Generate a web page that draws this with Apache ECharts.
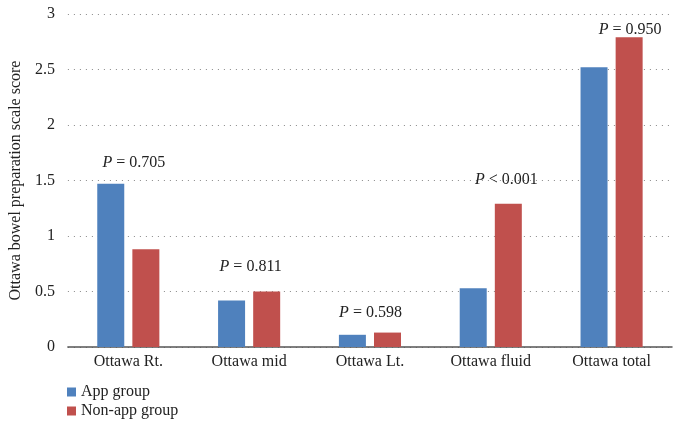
<!DOCTYPE html>
<html><head><meta charset="utf-8">
<script src="https://cdn.jsdelivr.net/npm/echarts@6/dist/echarts.min.js"></script>
<style>html,body{margin:0;padding:0;background:#fff}#c{width:683px;height:426px}</style>
</head><body><div id="c"></div>
<script>
const categories = ['Ottawa Rt.', 'Ottawa mid', 'Ottawa Lt.', 'Ottawa fluid', 'Ottawa total'];
const appGroup = [1.47, 0.42, 0.11, 0.53, 2.52];
const nonAppGroup = [0.88, 0.50, 0.13, 1.29, 2.79];
const pLabels = ['= 0.705', '= 0.811', '= 0.598', '< 0.001', '= 0.950'];
const pLabelValues = [1.66, 0.72, 0.31, 1.51, 2.86];
const yTicks = [0, 0.5, 1, 1.5, 2, 2.5, 3];
const pLabelOffsets = [-12, -16, -17, -2, 1];

const font = 'Liberation Serif';
const fs = 16;
const chart = echarts.init(document.getElementById('c'));
chart.setOption({
  animation: false,
  textStyle: { fontFamily: font },
  grid: { left: 67, right: 11, top: 14, bottom: 79 },
  legend: {
    orient: 'vertical', left: 62, top: 379, itemWidth: 9, itemHeight: 9, itemGap: 3,
    icon: 'rect',
    textStyle: { fontFamily: font, fontSize: fs, color: '#222' },
    data: ['App group', 'Non-app group']
  },
  xAxis: {
    type: 'category', data: categories,
    axisLine: { lineStyle: { color: '#555', width: 1.5 } },
    axisTick: { show: false },
    axisLabel: { fontFamily: font, fontSize: fs, color: '#222', margin: 7 }
  },
  yAxis: {
    type: 'value', min: yTicks[0], max: yTicks[yTicks.length - 1], interval: 0.5,
    name: 'Ottawa bowel preparation scale score', nameLocation: 'middle', nameGap: 40,
    nameTextStyle: { fontFamily: font, fontSize: fs, color: '#222' },
    axisLine: { show: false }, axisTick: { show: false },
    axisLabel: { fontFamily: font, fontSize: fs, color: '#222', margin: 13 },
    splitLine: { lineStyle: { type: [1, 5], color: '#888', width: 1 } }
  },
  series: [
    { name: 'App group', type: 'bar', data: appGroup, barWidth: 27, barGap: '30%',
      itemStyle: { color: '#4F81BD' } },
    { name: 'Non-app group', type: 'bar', data: nonAppGroup, barWidth: 27,
      itemStyle: { color: '#C0504D' },
      markPoint: {
        symbol: 'circle', symbolSize: 1,
        itemStyle: { color: 'rgba(0,0,0,0)' },
        data: categories.map((c, i) => ({
          coord: [c, pLabelValues[i]],
          label: {
            show: true, position: 'inside', offset: [pLabelOffsets[i], 0],
            formatter: '{i|P} ' + pLabels[i],
            fontFamily: font, fontSize: fs, color: '#222',
            rich: { i: { fontStyle: 'italic', fontFamily: font, fontSize: fs, color: '#222' } }
          }
        }))
      }
    }
  ]
});
</script></body></html>
